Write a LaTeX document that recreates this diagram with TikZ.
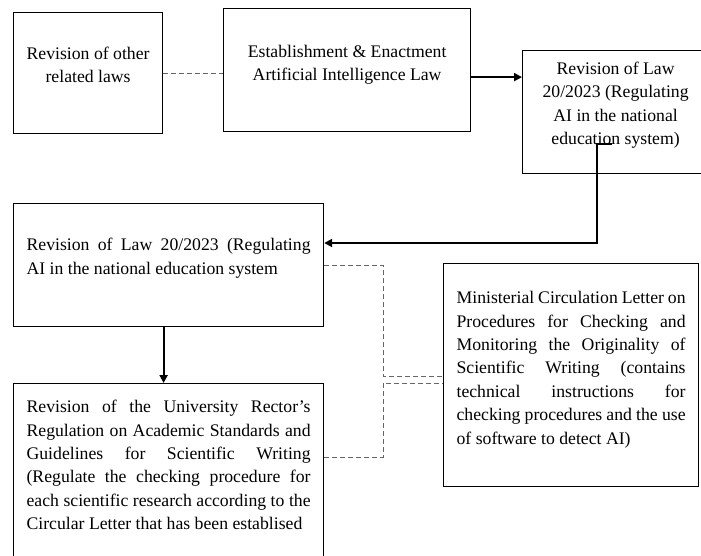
\documentclass[tikz,border=0pt]{standalone}
\usepackage{fontspec}
\setmainfont{Liberation Serif}
\usetikzlibrary{arrows.meta}
\newcommand{\boxtxt}[4]{\parbox[c][#3pt][t]{#2pt}{\rule{0pt}{#1pt}#4}}
\tikzset{%
	blk/.style={draw,line width=1.2pt,inner ysep=0pt,inner xsep=#1,anchor=north west,
		font=\fontsize{17.7}{23.4}\selectfont},
	blk/.default=10pt
}

\begin{document}
\begin{tikzpicture}[x=1pt,y=-1pt,
		flow/.style={line width=2pt,-{Triangle[length=8pt,width=8pt]}},
		link/.style={draw=black!60,line width=0.9pt,dash pattern=on 5pt off 3pt}]
				\useasboundingbox (0,0) rectangle (701,556);
				\clip (0,0) rectangle (701,556);
				\node [blk] (A) at (13,12) {\boxtxt{47}{129}{121}{\centering Revision of other\\related laws}};
				\node [blk] (B) at (223,8) {\boxtxt{49}{227}{123}{\centering Establishment \& Enactment\\Artificial Intelligence Law}};
				\node [blk=8pt] (C) at (522,50) {\boxtxt{24}{170}{123}{\centering Revision of Law\\20/2023 (Regulating\\AI in the national\\education system)}};
				\node [blk=13pt] (D) at (13,203) {\boxtxt{47}{284}{123}{Revision of Law 20/2023 (Regulating\linebreak AI in the national education system}};
				\node [blk=13pt] (E) at (13,383) {\boxtxt{29}{284}{200}{Revision of the University Rector's\linebreak
					Regulation on Academic Standards and\linebreak Guidelines for Scientific Writing\linebreak
					(Regulate the checking procedure for\linebreak each scientific research according to the\linebreak
					Circular Letter that has been establised}};
				\node [blk=13pt] (F) at (443,263) {\boxtxt{40}{229}{223}{Ministerial Circulation Letter on\linebreak
					Procedures for Checking and\linebreak Monitoring the Originality of\linebreak
					Scientific Writing (contains\linebreak technical instructions for\linebreak
					checking procedures and the use\linebreak of software to detect AI)}};
				\coordinate (cs) at (612,144);
				\coordinate (jn) at (383,376);
				\draw [link] (A.east) -- (A.east -| B.west);
				\draw [flow] ([yshift=-7pt]B.east) -- ([yshift=-7pt]B.east -| C.west);
				\draw [flow] (cs) -- ++(-15,0) |- ([yshift=-40pt]D.north east);
				\draw [flow] ([xshift=-5pt]D.south) -- ([xshift=-5pt]E.north);
				\draw [link] (D.east) -| (jn) -- (jn -| F.west);
				\draw [link] ([yshift=-74pt]E.north east) -| ([yshift=-7pt]jn) -- ([yshift=-7pt]jn -| F.west);
			\end{tikzpicture}
\end{document}
